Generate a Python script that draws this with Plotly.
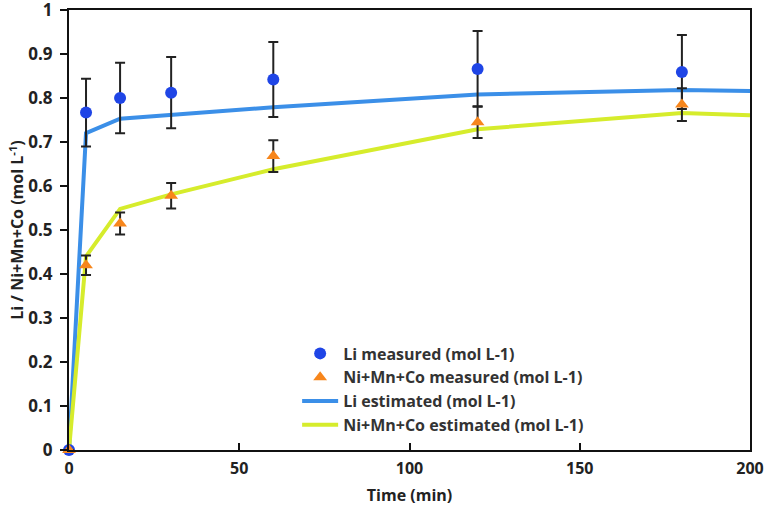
import plotly.graph_objects as go

time_meas = [0, 5, 15, 30, 60, 120, 180]
li_meas = [0.0, 0.767, 0.800, 0.812, 0.842, 0.866, 0.859]
li_err = [0.0, 0.077, 0.080, 0.081, 0.085, 0.086, 0.084]
nmc_meas = [0.0, 0.420, 0.515, 0.578, 0.668, 0.745, 0.785]
nmc_err = [0.0, 0.022, 0.025, 0.029, 0.036, 0.036, 0.037]

time_est = [0, 5, 15, 30, 60, 120, 180, 200]
li_est = [0.0, 0.720, 0.753, 0.762, 0.779, 0.808, 0.818, 0.816]
nmc_est = [0.0, 0.440, 0.548, 0.581, 0.638, 0.729, 0.766, 0.761]

x_ticks = [0, 50, 100, 150, 200]
y_ticks = [0, 0.1, 0.2, 0.3, 0.4, 0.5, 0.6, 0.7, 0.8, 0.9, 1]
y_labels = ["0", "0.1", "0.2", "0.3", "0.4", "0.5", "0.6", "0.7", "0.8", "0.9", "1"]

font_fam = "Open Sans"
fig = go.Figure()

fig.add_trace(go.Scatter(
    x=time_est, y=li_est, mode="lines", name="<b>Li estimated (mol L-1)</b>",
    line=dict(color="#3b8fe8", width=4), legendrank=3, cliponaxis=False))
fig.add_trace(go.Scatter(
    x=time_est, y=nmc_est, mode="lines", name="<b>Ni+Mn+Co estimated (mol L-1)</b>",
    line=dict(color="#d6ec2c", width=4), legendrank=4, cliponaxis=False))
fig.add_trace(go.Scatter(
    x=time_meas, y=li_meas, mode="markers", name="<b>Li measured (mol L-1)</b>",
    marker=dict(symbol="circle", size=12, color="#1f45e6"),
    error_y=dict(type="data", array=li_err, color="#222222", thickness=2, width=5),
    legendrank=1, cliponaxis=False))
fig.add_trace(go.Scatter(
    x=time_meas, y=nmc_meas, mode="markers", name="<b>Ni+Mn+Co measured (mol L-1)</b>",
    marker=dict(symbol="triangle-up", size=12, color="#f7861c"),
    error_y=dict(type="data", array=nmc_err, color="#222222", thickness=2, width=5),
    legendrank=2, cliponaxis=False))

fig.update_layout(
    width=768, height=525,
    margin=dict(l=69, r=18, t=10, b=75, autoexpand=False),
    paper_bgcolor="white", plot_bgcolor="white",
    font=dict(family=font_fam, color="#222222", size=15),
    showlegend=True,
    legend=dict(x=0.335, y=0.258, xanchor="left", yanchor="top",
                bgcolor="rgba(0,0,0,0)", font=dict(size=16, color="#333333"),
                tracegroupgap=3, itemwidth=36),
    xaxis=dict(range=[0, 200], tickvals=x_ticks, ticktext=["<b>%d</b>" % v for v in x_ticks],
               ticks="inside", ticklen=7, automargin=False, ticklabeloverflow="allow",
               tickwidth=2, tickcolor="#111111", showline=True, linecolor="#111111",
               linewidth=2, mirror=True, showgrid=False, zeroline=False,
               tickfont=dict(size=16, family=font_fam), ticklabelstandoff=3,
               title=dict(text="<b>Time (min)</b>", font=dict(size=16), standoff=12)),
    yaxis=dict(range=[0, 1], tickvals=y_ticks, ticktext=["<b>%s</b>" % s for s in y_labels],
               ticks="outside", ticklen=7, automargin=False, ticklabeloverflow="allow",
               tickwidth=2, tickcolor="#111111", showline=True, linecolor="#111111",
               linewidth=2, mirror=True, showgrid=False, zeroline=False,
               tickfont=dict(size=17, family=font_fam), ticklabelstandoff=4,
               title=dict(text="<b>Li / Ni+Mn+Co (mol L<sup>-1</sup>)</b>",
                          font=dict(size=16), standoff=0)),
)

fig.write_html("out.html", config={"displayModeBar": False},
               post_script="document.body.style.margin='0';")
